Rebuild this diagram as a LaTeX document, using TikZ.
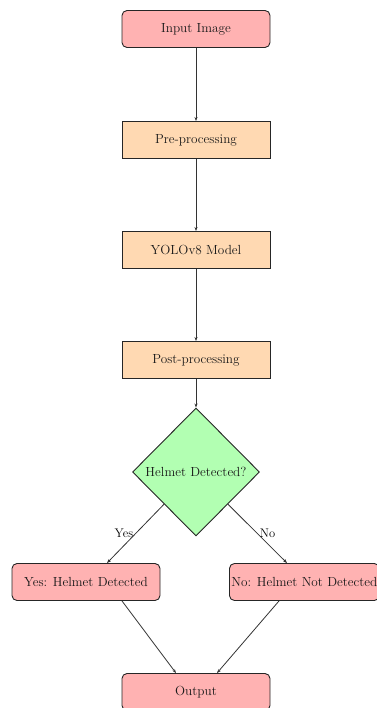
\documentclass[tikz,border=0pt]{standalone}
\usetikzlibrary{shapes.geometric,arrows.meta,calc}
\begin{document}
\begin{tikzpicture}[x=1pt,y=1pt,
  font=\fontsize{13.2}{15}\selectfont,
  base/.style={draw=black!85,line width=0.9pt,minimum width=148pt,minimum height=37pt,inner xsep=2pt,text=black!90},
  termbox/.style={base,fill=red!30,rounded corners=5pt},
  procbox/.style={base,fill=orange!30},
  decbox/.style={draw=black!85,line width=0.9pt,diamond,fill=green!30,minimum width=127pt,minimum height=128pt,inner sep=0pt,text=black!90},
  conn/.style={draw=black!80,line width=0.8pt,-{Stealth[length=4pt,width=3pt]}},
  lbl/.style={font=\fontsize{12.5}{14}\selectfont,inner sep=2pt}]
\useasboundingbox (0,0) rectangle (376,-708);
\node[termbox] (in) at (196,-29) {Input Image};
\node[procbox] (pre) at (196,-140) {Pre-processing};
\node[procbox] (yolo) at (196,-250) {YOLOv8 Model};
\node[procbox] (post) at (196,-360) {Post-processing};
\node[decbox] (dec) at (196,-472) {Helmet Detected?};
\node[termbox] (yes) at (86,-582) {Yes: Helmet Detected};
\node[termbox,anchor=west] (no) at (229,-582) {No: Helmet Not Detected};
\node[termbox] (out) at (196,-692) {Output};
\draw[conn] (in) -- (pre);
\draw[conn] (pre) -- (yolo);
\draw[conn] (yolo) -- (post);
\draw[conn] (post) -- (dec);
\draw[conn] (dec.south west) -- node[lbl,left]{Yes} ($(yes.north)+(21,0)$);
\draw[conn] (dec.south east) -- node[lbl,right]{No} ($(no.north west)+(58,0)$);
\draw[conn] ($(yes.south)+(36,0)$) -- ($(out.north)+(-20,0)$);
\draw[conn] ($(no.south west)+(50,0)$) -- ($(out.north)+(21,0)$);
\end{tikzpicture}
\end{document}
